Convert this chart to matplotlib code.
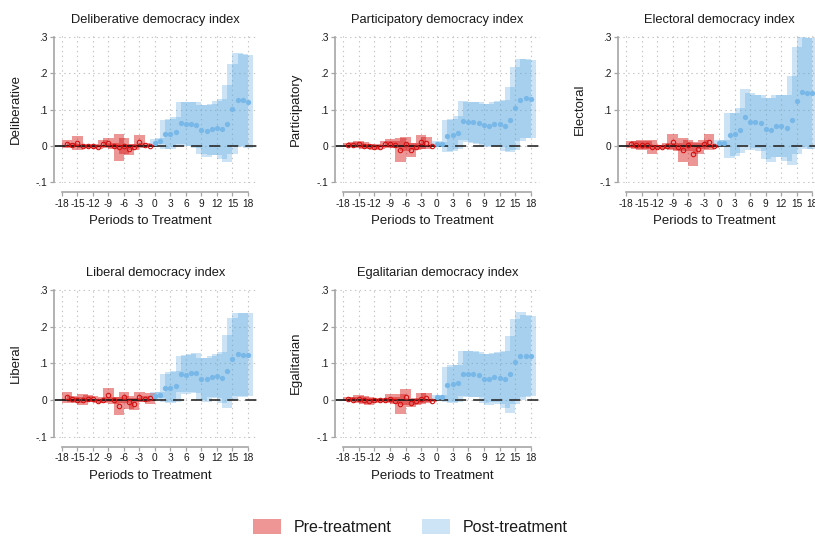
import numpy as np
import matplotlib
matplotlib.use("Agg")
from matplotlib import pyplot as plt
from matplotlib.patches import Patch

plt.rcParams['font.family'] = ['Liberation Sans', 'DejaVu Sans']
plt.rcParams['axes.unicode_minus'] = False
plt.rcParams['lines.scale_dashes'] = False

pre_periods = np.arange(-17, 0)
post_periods = np.arange(0, 19)

# point estimates and 95% CI half-widths, pre (-17..-1) and post (0..18)
delib_pre = [0.005, 0.002, 0.008, 0.0, -0.001, 0.0, -0.002, 0.006, 0.008, -0.001, -0.004, -0.001, -0.009, -0.002, 0.012, 0.002, 0.0]
delib_pre_ci = [0.011, 0.006, 0.019, 0.006, 0.005, 0.005, 0.006, 0.01, 0.014, 0.008, 0.037, 0.022, 0.015, 0.008, 0.017, 0.006, 0.004]
delib_post = [0.009, 0.013, 0.032, 0.034, 0.039, 0.064, 0.061, 0.061, 0.058, 0.045, 0.042, 0.046, 0.05, 0.047, 0.061, 0.102, 0.128, 0.126, 0.122]
delib_post_ci = [0.011, 0.008, 0.041, 0.041, 0.041, 0.058, 0.06, 0.06, 0.064, 0.068, 0.072, 0.071, 0.075, 0.083, 0.106, 0.123, 0.128, 0.128, 0.128]

partip_pre = [0.003, 0.004, 0.005, 0.001, 0.0, -0.003, -0.003, 0.005, 0.006, 0.004, -0.011, 0.006, -0.011, -0.002, 0.011, 0.009, 0.0]
partip_pre_ci = [0.005, 0.006, 0.01, 0.009, 0.006, 0.008, 0.006, 0.009, 0.012, 0.01, 0.032, 0.02, 0.02, 0.01, 0.02, 0.016, 0.004]
partip_post = [0.005, 0.005, 0.028, 0.031, 0.037, 0.07, 0.066, 0.065, 0.063, 0.057, 0.056, 0.061, 0.06, 0.056, 0.072, 0.104, 0.128, 0.131, 0.13]
partip_post_ci = [0.008, 0.007, 0.045, 0.044, 0.045, 0.054, 0.055, 0.057, 0.058, 0.058, 0.06, 0.06, 0.064, 0.07, 0.09, 0.114, 0.113, 0.11, 0.107]

elect_pre = [0.005, 0.003, 0.003, 0.003, -0.003, -0.002, -0.002, 0.0, 0.012, -0.003, -0.01, 0.002, -0.021, -0.008, 0.005, 0.011, -0.001]
elect_pre_ci = [0.01, 0.012, 0.014, 0.012, 0.02, 0.006, 0.006, 0.008, 0.022, 0.012, 0.033, 0.015, 0.033, 0.015, 0.012, 0.023, 0.005]
elect_post = [0.008, 0.008, 0.03, 0.032, 0.043, 0.079, 0.067, 0.067, 0.063, 0.047, 0.043, 0.055, 0.055, 0.05, 0.071, 0.125, 0.148, 0.145, 0.145]
elect_post_ci = [0.008, 0.008, 0.062, 0.06, 0.062, 0.077, 0.078, 0.073, 0.077, 0.084, 0.088, 0.085, 0.085, 0.091, 0.123, 0.148, 0.152, 0.152, 0.152]

liberal_pre = [0.007, 0.002, -0.001, 0.001, 0.004, 0.002, -0.002, 0.0, 0.014, -0.001, -0.016, 0.008, -0.006, -0.01, 0.009, 0.003, 0.005]
liberal_pre_ci = [0.014, 0.008, 0.008, 0.015, 0.01, 0.008, 0.006, 0.008, 0.02, 0.01, 0.025, 0.015, 0.018, 0.016, 0.014, 0.008, 0.015]
liberal_post = [0.012, 0.014, 0.033, 0.034, 0.038, 0.072, 0.069, 0.074, 0.073, 0.058, 0.056, 0.064, 0.065, 0.061, 0.078, 0.112, 0.125, 0.123, 0.124]
liberal_post_ci = [0.011, 0.009, 0.037, 0.043, 0.042, 0.049, 0.053, 0.052, 0.054, 0.057, 0.06, 0.056, 0.06, 0.07, 0.099, 0.111, 0.113, 0.115, 0.113]

egal_pre = [0.003, 0.001, 0.003, 0.0, -0.003, -0.001, -0.001, 0.0, 0.004, -0.002, -0.01, 0.008, -0.008, -0.004, 0.004, 0.005, -0.002]
egal_pre_ci = [0.006, 0.006, 0.012, 0.01, 0.01, 0.006, 0.005, 0.006, 0.012, 0.01, 0.027, 0.021, 0.012, 0.01, 0.014, 0.014, 0.004]
egal_post = [0.008, 0.008, 0.042, 0.043, 0.046, 0.072, 0.071, 0.07, 0.069, 0.058, 0.056, 0.062, 0.06, 0.056, 0.07, 0.105, 0.12, 0.12, 0.12]
egal_post_ci = [0.006, 0.006, 0.048, 0.052, 0.05, 0.062, 0.063, 0.063, 0.062, 0.067, 0.069, 0.067, 0.072, 0.078, 0.104, 0.115, 0.12, 0.113, 0.11]

xticks = np.arange(-18, 19, 3)
yticks = [-0.1, 0, 0.1, 0.2, 0.3]
ytick_labels = ['-.1', '0', '.1', '.2', '.3']

red = (217/255, 22/255, 22/255)
blue = (85/255, 165/255, 222/255)
red_alpha = 0.45
blue_alpha = 0.30
axis_grey = '#a5a5a5'
text_col = '#1a1a1a'

W, H = 815, 540
fig = plt.figure(figsize=(W/100, H/100), dpi=100)

def make_ax(left, top, width, height):
    return fig.add_axes([left/W, 1 - (top + height)/H, width/W, height/H])

def panel(ax, title, ylabel, pre, pre_ci, post, post_ci, ylim):
    pre = np.array(pre); pre_ci = np.array(pre_ci)
    post = np.array(post); post_ci = np.array(post_ci)
    ax.set_xlim(-19.5, 19.7)
    ax.set_ylim(*ylim)
    ax.set_xticks(xticks)
    ax.set_xticklabels([str(v) for v in xticks])
    ax.set_yticks(yticks)
    ax.set_yticklabels(ytick_labels)
    ax.grid(True, linestyle=(0, (1, 2.5)), color='#c4c4c4', linewidth=0.8)
    ax.set_axisbelow(True)

    # confidence intervals as wide translucent bars
    ax.bar(pre_periods, 2*pre_ci, bottom=pre - pre_ci, width=2.0,
           color=red, alpha=red_alpha, linewidth=0, zorder=2)
    ax.bar(post_periods, 2*post_ci, bottom=post - post_ci, width=2.0,
           color=blue, alpha=blue_alpha, linewidth=0, zorder=2)

    # zero reference line
    ax.plot([-19.5, 0], [0, 0], color='#111111', lw=1.2, zorder=2.5)
    ax.plot([0, 19.7], [0, 0], color='#2a2a2a', lw=1.2, zorder=2.5,
            dashes=(8, 5), dash_capstyle='butt')

    ax.plot(pre_periods, pre, 'o', ms=3.2, mfc='none', mec='#d41212', mew=0.8, zorder=3)
    ax.plot(post_periods, post, 'o', ms=3.8, color='#78b8e8', mew=0, zorder=3)

    for s in ['top', 'right']:
        ax.spines[s].set_visible(False)
    for s in ['left', 'bottom']:
        ax.spines[s].set_color(axis_grey)
        ax.spines[s].set_linewidth(1.2)
    ax.spines['left'].set_bounds(-0.1, 0.3)
    ax.spines['bottom'].set_bounds(-18, 18)
    ax.spines['bottom'].set_position(('outward', 6.3))
    ax.tick_params(length=3, width=0.9, color=axis_grey, labelsize=7.3,
                   pad=2, labelcolor=text_col)

    ax.set_title(title, fontsize=9.3, pad=9, color=text_col)
    ax.set_ylabel(ylabel, fontsize=9.5, color=text_col, va='center')
    ax.yaxis.set_label_coords(-0.19, 0.5)
    ax.set_xlabel('Periods to Treatment', fontsize=9.5, color=text_col, va='center')
    ax.xaxis.set_label_coords(0.475, -0.255)

row1 = (-0.103, 0.305)
row2 = (-0.103, 0.305)

ax1 = make_ax(54.2, 35.4, 202.5, 147.9)
panel(ax1, 'Deliberative democracy index', 'Deliberative',
      delib_pre, delib_pre_ci, delib_post, delib_post_ci, row1)
ax2 = make_ax(335.2, 35.4, 204.5, 147.9)
panel(ax2, 'Participatory democracy index', 'Participatory',
      partip_pre, partip_pre_ci, partip_post, partip_post_ci, row1)
ax3 = make_ax(618.2, 35.4, 203.0, 147.9)
panel(ax3, 'Electoral democracy index', 'Electoral',
      elect_pre, elect_pre_ci, elect_post, elect_post_ci, row1)
ax4 = make_ax(54.2, 288.2, 202.5, 149.6)
panel(ax4, 'Liberal democracy index', 'Liberal',
      liberal_pre, liberal_pre_ci, liberal_post, liberal_post_ci, row2)
ax5 = make_ax(335.2, 288.2, 204.5, 149.6)
panel(ax5, 'Egalitarian democracy index', 'Egalitarian',
      egal_pre, egal_pre_ci, egal_post, egal_post_ci, row2)

handles = [Patch(facecolor='#ee9696', edgecolor='none', label='Pre-treatment'),
           Patch(facecolor='#cce4f5', edgecolor='none', label='Post-treatment')]
fig.legend(handles=handles, loc='center', bbox_to_anchor=(410/W, 1 - 527/H),
           ncol=2, frameon=False, fontsize=11.5, handlelength=1.8,
           handleheight=1.05, handletextpad=0.75, columnspacing=1.9,
           labelcolor=text_col)

fig.savefig('out.png', dpi=100)
